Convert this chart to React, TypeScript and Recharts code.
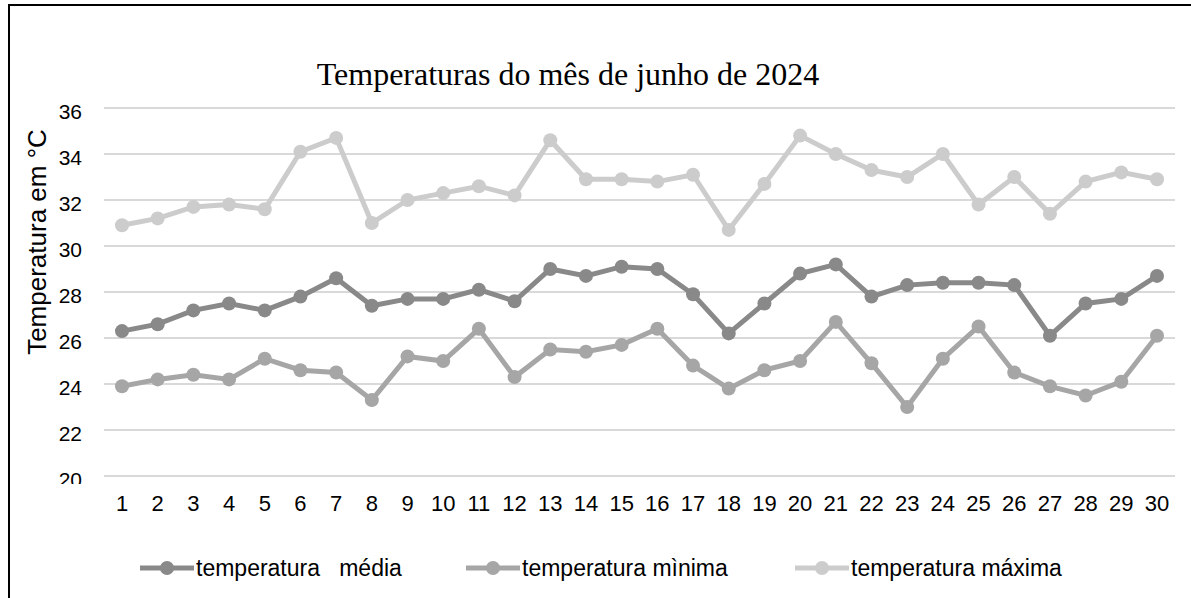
import React from 'react'
import { LineChart, Line, XAxis, YAxis, CartesianGrid } from 'recharts'

const days = Array.from({ length: 30 }, (_, i) => String(i + 1))

const tempMedia = [
  26.3, 26.6, 27.2, 27.5, 27.2, 27.8, 28.6, 27.4, 27.7, 27.7,
  28.1, 27.6, 29.0, 28.7, 29.1, 29.0, 27.9, 26.2, 27.5, 28.8,
  29.2, 27.8, 28.3, 28.4, 28.4, 28.3, 26.1, 27.5, 27.7, 28.7,
]
const tempMinima = [
  23.9, 24.2, 24.4, 24.2, 25.1, 24.6, 24.5, 23.3, 25.2, 25.0,
  26.4, 24.3, 25.5, 25.4, 25.7, 26.4, 24.8, 23.8, 24.6, 25.0,
  26.7, 24.9, 23.0, 25.1, 26.5, 24.5, 23.9, 23.5, 24.1, 26.1,
]
const tempMaxima = [
  30.9, 31.2, 31.7, 31.8, 31.6, 34.1, 34.7, 31.0, 32.0, 32.3,
  32.6, 32.2, 34.6, 32.9, 32.9, 32.8, 33.1, 30.7, 32.7, 34.8,
  34.0, 33.3, 33.0, 34.0, 31.8, 33.0, 31.4, 32.8, 33.2, 32.9,
]
const yTicks = [20, 22, 24, 26, 28, 30, 32, 34, 36]

const series = [
  { key: 'media', name: 'temperatura\u00a0\u00a0 média', color: '#898989' },
  { key: 'minima', name: 'temperatura mìnima', color: '#a6a6a6' },
  { key: 'maxima', name: 'temperatura máxima', color: '#cccccc' },
]

const data = days.map((d, i) => ({
  day: d,
  media: tempMedia[i],
  minima: tempMinima[i],
  maxima: tempMaxima[i],
}))

const font = '"Liberation Sans", Arial, sans-serif'

// the lowest tick label is cut off in the original, keep that look
function YTick(props: any) {
  const { x, y, payload } = props
  const clipped = payload.value === 20
  return (
    <g>
      {clipped && (
        <defs>
          <clipPath id="clip-y20">
            <rect x={x - 60} y={y - 20} width={80} height={28} />
          </clipPath>
        </defs>
      )}
      <text
        x={x}
        y={y + 3}
        dy="0.36em"
        textAnchor="end"
        fill="#000"
        fontSize={21}
        fontFamily={font}
        clipPath={clipped ? 'url(#clip-y20)' : undefined}
      >
        {payload.value}
      </text>
    </g>
  )
}

function LegendRow() {
  const slots = [140, 466, 795]
  return (
    <div style={{ position: 'absolute', left: 0, top: 554, width: 1191, height: 28 }}>
      {series.map((s, i) => (
        <div
          key={s.key}
          style={{ position: 'absolute', left: slots[i], top: 0, display: 'flex', alignItems: 'center', height: 28 }}
        >
          <svg width={54} height={20}>
            <line x1={0} y1={10} x2={54} y2={10} stroke={s.color} strokeWidth={5} />
            <circle cx={27} cy={10} r={7} fill={s.color} />
          </svg>
          <span style={{ marginLeft: 2, fontFamily: font, fontSize: 23, color: '#000', whiteSpace: 'pre' }}>{s.name}</span>
        </div>
      ))}
    </div>
  )
}

export default function App() {
  return (
    <div style={{ position: 'fixed', left: 0, top: 0, width: 1191, height: 598, overflow: 'hidden', background: '#fff' }}>
      <div
        style={{
          position: 'absolute', left: 8, top: 4, width: 1300, height: 700,
          borderLeft: '2px solid #000', borderTop: '2px solid #000',
        }}
      />
      <div
        style={{
          position: 'absolute', left: 0, top: 56, width: 1136, textAlign: 'center',
          fontFamily: '"Liberation Serif", "Times New Roman", serif', fontSize: 32, color: '#000',
        }}
      >
        Temperaturas do mês de junho de 2024
      </div>
      <div style={{ position: 'absolute', left: 0, top: 0 }}>
        <LineChart width={1191} height={598} data={data} margin={{ top: 108, right: 16, bottom: 82, left: 0 }}>
          <CartesianGrid horizontal vertical={false} stroke="#d9d9d9" strokeWidth={2} />
          <XAxis
            dataKey="day"
            axisLine={false}
            tickLine={false}
            tickSize={0}
            tickMargin={19}
            height={40}
            interval={0}
            padding={{ left: 18, right: 18 }}
            tick={{ fill: '#000', fontSize: 22, fontFamily: font }}
          />
          <YAxis
            domain={[20, 36]}
            ticks={yTicks}
            width={104}
            axisLine={false}
            tickLine={false}
            tickSize={0}
            tickMargin={22}
            tick={<YTick />}
            label={{
              content: () => (
                <text
                  x={37}
                  y={242}
                  transform="rotate(-90 37 242)"
                  textAnchor="middle"
                  dominantBaseline="central"
                  fontSize={26}
                  fontFamily={font}
                  fill="#000"
                >
                  Temperatura em °C
                </text>
              ),
            }}
          />
          {series.map((s) => (
            <Line
              key={s.key}
              dataKey={s.key}
              name={s.name}
              stroke={s.color}
              strokeWidth={5}
              dot={{ r: 7, fill: s.color, stroke: s.color, strokeWidth: 0 }}
              activeDot={false}
              isAnimationActive={false}
            />
          ))}
        </LineChart>
      </div>
      <LegendRow />
    </div>
  )
}
